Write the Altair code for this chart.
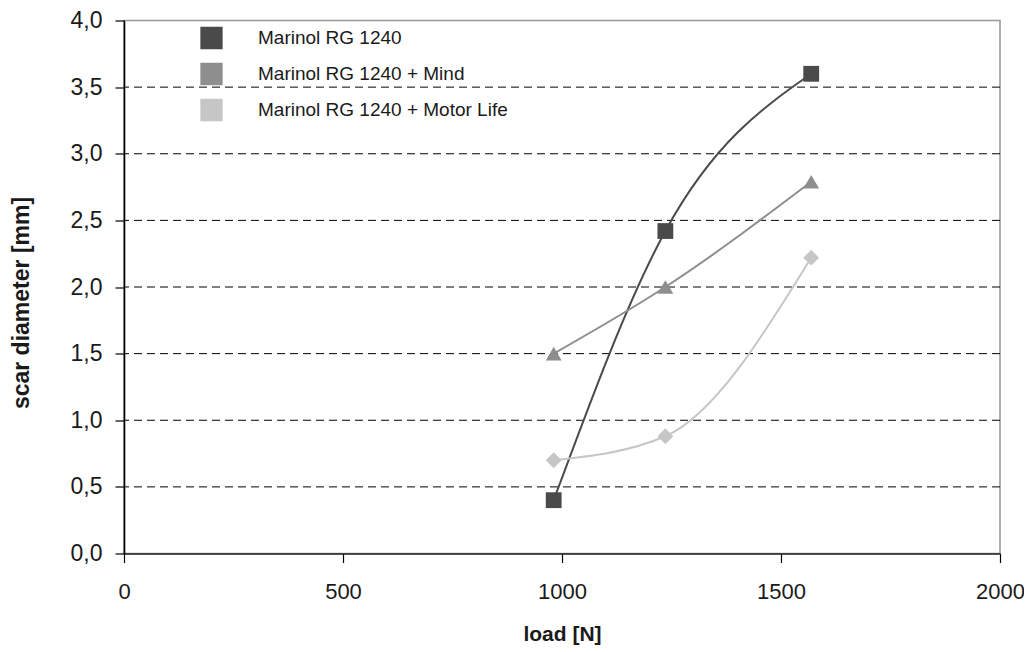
import altair as alt
import pandas as pd

series_names = ["Marinol RG 1240", "Marinol RG 1240 + Mind", "Marinol RG 1240 + Motor Life"]
load_n = [981, 1236, 1569]
scar_base = [0.40, 2.42, 3.60]
scar_mind = [1.50, 2.00, 2.79]
scar_motor = [0.70, 0.88, 2.22]
x_ticks = [0, 500, 1000, 1500, 2000]
y_ticks = [0.0, 0.5, 1.0, 1.5, 2.0, 2.5, 3.0, 3.5, 4.0]
grid_values = [0.5, 1.0, 1.5, 2.0, 2.5, 3.0, 3.5]

colors = ["#4a4a4a", "#8e8e8e", "#c6c6c6"]
shapes = ["square", "triangle-up", "diamond"]

rows = []
for name, vals in zip(series_names, [scar_base, scar_mind, scar_motor]):
    for i, (x, y) in enumerate(zip(load_n, vals)):
        rows.append({"series": name, "load": x, "scar": y, "order": i})
df = pd.DataFrame(rows)
grid_df = pd.DataFrame({"scar": grid_values})

FONT = "Liberation Sans"

x_scale = alt.Scale(domain=[0, 2000], nice=False)
y_scale = alt.Scale(domain=[0, 4], nice=False)

x_axis = alt.Axis(values=x_ticks, format="d", grid=False,
                  tickSize=9, tickColor="#000", tickWidth=1.2,
                  domainColor="#222", domainWidth=1.6,
                  labelFontSize=22, labelPadding=19, labelColor="#1a1a1a",
                  labelFont=FONT,
                  titleFontSize=21, titleFontWeight="bold", titleY=70,
                  titleBaseline="top",
                  titleColor="#1a1a1a", titleFont=FONT, labelFlush=False)
y_axis = alt.Axis(values=y_ticks,
                  labelExpr="replace(format(datum.value, '.1f'), '.', ',')",
                  grid=False,
                  tickSize=9, tickColor="#000", tickWidth=1.2,
                  domainColor="#000", domainWidth=1.6,
                  labelFontSize=23, labelPadding=13, labelColor="#1a1a1a",
                  labelFont=FONT,
                  titleFontSize=23, titleFontWeight="bold",
                  titleX=-91, titleY=282, titleBaseline="bottom",
                  titleColor="#1a1a1a", titleFont=FONT)

x_enc = alt.X("load:Q", title="load [N]", scale=x_scale, axis=x_axis)
y_enc = alt.Y("scar:Q", title="scar diameter [mm]", scale=y_scale, axis=y_axis)

color_scale = alt.Scale(domain=series_names, range=colors)

legend = alt.Legend(title=None, orient="none", legendX=76, legendY=6,
                    symbolType="square", symbolSize=440,
                    symbolStrokeColor="#3a3a3a", symbolStrokeWidth=1.3,
                    symbolOpacity=1, labelFontSize=19, labelColor="#1a1a1a",
                    labelOffset=35, rowPadding=9, padding=0, labelLimit=500,
                    labelFont=FONT)

grid = alt.Chart(grid_df).mark_rule(color="#000", strokeDash=[8, 5], strokeWidth=1).encode(
    y=y_enc,
)

lines = alt.Chart(df).mark_line(interpolate="monotone", strokeWidth=2).encode(
    x=x_enc, y=y_enc,
    color=alt.Color("series:N", scale=color_scale, legend=legend),
    order="order:Q",
)

point_layers = []
for name, shp in zip(series_names, shapes):
    point_layers.append(
        alt.Chart(df).transform_filter(alt.datum.series == name)
        .mark_point(filled=True, opacity=1, size=250, shape=shp)
        .encode(
            x=x_enc, y=y_enc,
            color=alt.Color("series:N", scale=color_scale, legend=legend),
        )
    )

chart = alt.layer(grid, *point_layers, lines).properties(
    width=876, height=533,
    autosize=alt.AutoSizeParams(type="none"),
    padding={"top": 12.5, "left": 116, "right": 24, "bottom": 92},
).configure_view(stroke="#999", strokeWidth=1.6)

chart.save("out.html", embed_options={"renderer": "svg", "actions": False})
